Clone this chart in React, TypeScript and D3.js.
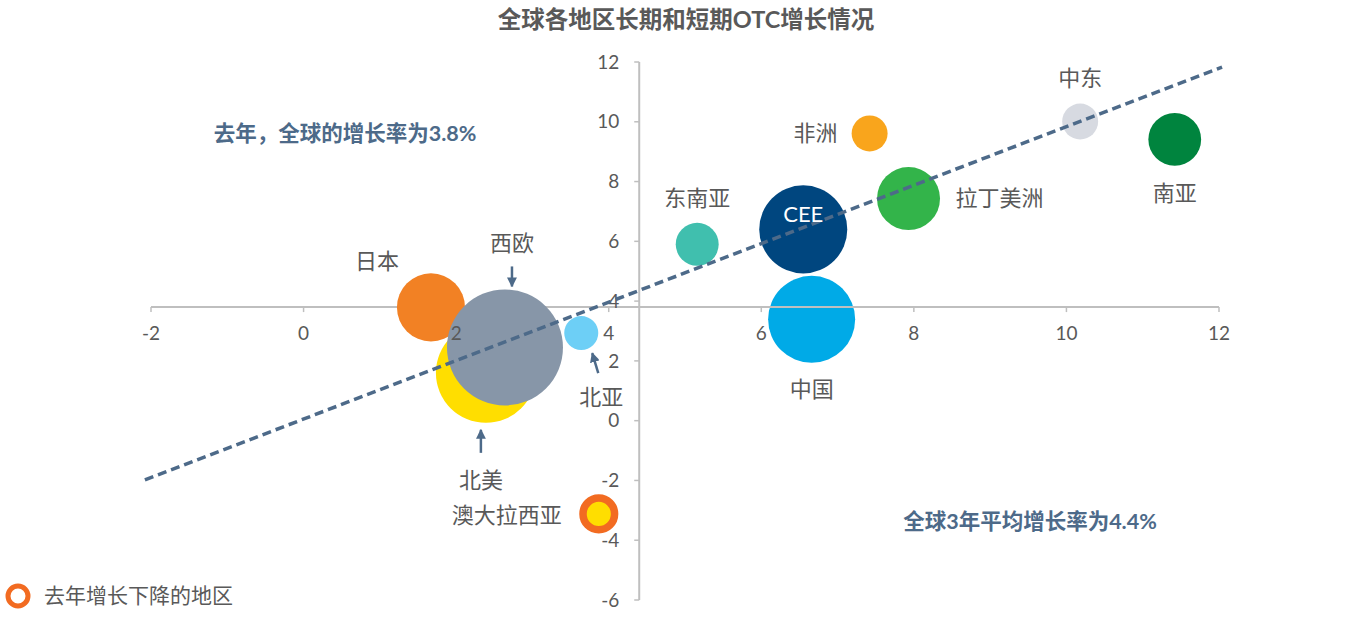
import React from 'react';
import * as d3 from 'd3';

// regions: long-term (3 yr avg) growth on x, last year growth on y, bubble size = market size
const regions = ['日本', '西欧', '北美', '北亚', '澳大拉西亚', '东南亚', 'CEE', '中国', '非洲', '拉丁美洲', '中东', '南亚'];
const growth3yr = [1.67, 2.64, 2.39, 3.64, 3.87, 5.16, 6.55, 6.66, 7.42, 7.93, 10.18, 11.42];
const growthLastYear = [3.79, 2.45, 1.6, 2.93, -3.12, 5.9, 6.4, 3.39, 9.61, 7.43, 10.01, 9.41];
const marketSize = [34.4, 100, 74.3, 8.6, 11.3, 13.7, 57.6, 56.3, 9.6, 29.5, 9.6, 20.7];
const colors = ['#f28124', '#8796a8', '#ffde00', '#6dcff6', '#ffde00', '#40bfae', '#00467f', '#00aae7', '#f9a51c', '#33b44a', '#d7dae1', '#00843e'];
const declined = [false, false, false, false, true, false, false, false, false, false, false, false];

const xTicks = [-2, 0, 2, 4, 6, 8, 10, 12];
const yTicks = [-6, -4, -2, 0, 2, 4, 6, 8, 10, 12];

// trend line end points (data units)
const trendX = [-2.08, 12.04];
const trendY = [-1.98, 11.83];

const globalAvg3yr = 4.4;
const globalLastYear = 3.8;

const title = '全球各地区长期和短期OTC增长情况';
const noteLastYear = '去年，全球的增长率为3.8%';
const note3yr = '全球3年平均增长率为4.4%';
const legendText = '去年增长下降的地区';

// label offsets from bubble centre (px) and anchor
const labelOffsets: [number, number, string][] = [
  [-54, -46, 'middle'], [7, -104, 'middle'], [-5, 107, 'middle'], [20, 64, 'middle'], [-92, 1, 'middle'], [0, -46, 'middle'],
  [0, -15, 'middle'], [0, 70, 'middle'], [-54, 0, 'middle'], [47, 0, 'start'], [0, -43, 'middle'], [0, 54, 'middle'],
];

const W = 1370;
const H = 622;
const FONT = "Lato, 'Noto Sans CJK SC', sans-serif";
const TXT = '#595959';
const AXIS = '#bfbfbf';
const NAVY = '#4d6a89';

export default function App() {
  const x = d3.scaleLinear().domain([-2, 12]).range([151, 1219]);
  const y = d3.scaleLinear().domain([-6, 12]).range([600, 62]);
  const r = d3.scaleSqrt().domain([0, 100]).range([0, 58]);

  const data = regions.map((name, i) => ({
    name,
    cx: x(growth3yr[i]),
    cy: y(growthLastYear[i]),
    r: r(marketSize[i]),
    color: colors[i],
    declined: declined[i],
    off: labelOffsets[i],
  }));

  const axisX = x(globalAvg3yr);
  const axisY = y(globalLastYear);

  const bubble = (d: typeof data[0]) =>
    d.declined ? (
      <circle key={d.name} cx={d.cx} cy={d.cy} r={d.r - 3.7} fill={d.color} stroke="#f26b21" strokeWidth={7.5} />
    ) : (
      <circle key={d.name} cx={d.cx} cy={d.cy} r={d.r} fill={d.color} />
    );

  // China sits under the axis line in the original
  const under = data.filter(d => d.name === '中国');
  const over = data.filter(d => d.name !== '中国');
  const order = ['北美', '日本', '西欧'];
  over.sort((a, b) => (order.indexOf(a.name) + 1 || 99) - (order.indexOf(b.name) + 1 || 99));

  const byName = (n: string) => data.find(d => d.name === n)!;
  const xe = byName('西欧');
  const na = byName('北美');
  const nasia = byName('北亚');
  const arrows = [
    { x1: xe.cx + 7, y1: xe.cy - 81, x2: xe.cx + 7, y2: xe.cy - 61 },
    { x1: na.cx - 5, y1: na.cy + 80, x2: na.cx - 5, y2: na.cy + 57 },
    { x1: nasia.cx + 17, y1: nasia.cy + 40, x2: nasia.cx + 11, y2: nasia.cy + 20 },
  ];

  const line = d3.line<number>().x((_, i) => x(trendX[i])).y(v => y(v));

  return (
    <div style={{ position: 'absolute', left: 0, top: 0 }}>
      <svg width={W} height={H} style={{ display: 'block', fontFamily: FONT }}>
        <defs>
          <marker id="arr" viewBox="0 0 10 10" refX="9" refY="5" markerWidth="4" markerHeight="4" orient="auto">
            <path d="M0,0 L10,5 L0,10 z" fill={NAVY} />
          </marker>
        </defs>
        <rect width={W} height={H} fill="#fff" />

        <text x={686} y={28} textAnchor="middle" fontSize={23.5} fontWeight="bold" fill={TXT}>{title}</text>

        {under.map(bubble)}

        {/* axes */}
        <line x1={x(-2)} x2={x(12)} y1={axisY} y2={axisY} stroke={AXIS} strokeWidth={2} />
        {xTicks.map(t => (
          <line key={'xt' + t} x1={x(t)} x2={x(t)} y1={axisY} y2={axisY + 5} stroke={AXIS} strokeWidth={1.5} />
        ))}
        <line x1={axisX} x2={axisX} y1={y(12)} y2={y(-6)} stroke={AXIS} strokeWidth={2} />
        {yTicks.map(t => (
          <line key={'yt' + t} x1={axisX - 5} x2={axisX} y1={y(t)} y2={y(t)} stroke={AXIS} strokeWidth={1.5} />
        ))}

        {over.map(bubble)}

        {/* tick labels */}
        {xTicks.map(t => (
          <text key={'xl' + t} x={x(t)} y={axisY + 33} textAnchor="middle" fontSize={19} fill={TXT}>{t}</text>
        ))}
        {yTicks.map(t => (
          <text key={'yl' + t} x={axisX - 20} y={y(t)} dy="0.35em" textAnchor="end" fontSize={19} fill={TXT}>{t}</text>
        ))}

        {/* trend */}
        <path d={line(trendY) || ''} fill="none" stroke={NAVY} strokeWidth={3.5} strokeDasharray="9 5" />

        {/* bubble labels */}
        {data.map(d => (
          <text key={'lb' + d.name} x={d.cx + d.off[0]} y={d.cy + d.off[1]} dy="0.35em" textAnchor={d.off[2]}
            fontSize={22} fill={d.name === 'CEE' ? '#fff' : TXT}>{d.name}</text>
        ))}

        {arrows.map((a, i) => (
          <line key={'ar' + i} x1={a.x1} y1={a.y1} x2={a.x2} y2={a.y2} stroke={NAVY} strokeWidth={2.5} markerEnd="url(#arr)" />
        ))}

        <text x={345} y={133} dy="0.35em" textAnchor="middle" fontSize={21.5} fontWeight="bold" fill={NAVY}>{noteLastYear}</text>
        <text x={1030} y={521} dy="0.35em" textAnchor="middle" fontSize={21.5} fontWeight="bold" fill={NAVY}>{note3yr}</text>

        {/* legend */}
        <circle cx={18} cy={596} r={10} fill="none" stroke="#f26b21" strokeWidth={5} />
        <text x={44} y={596} dy="0.35em" fontSize={21} fill={TXT}>{legendText}</text>
      </svg>
    </div>
  );
}
